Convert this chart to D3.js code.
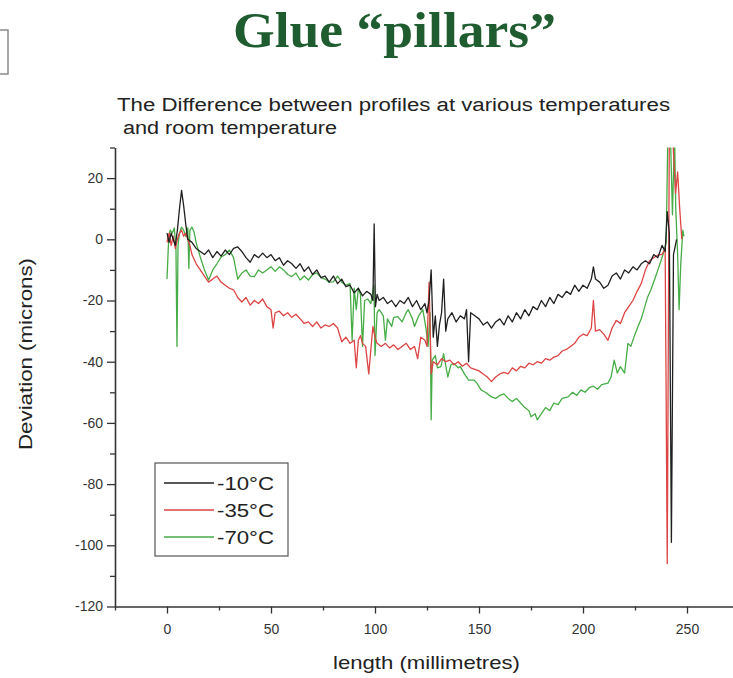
<!DOCTYPE html>
<html>
<head>
<meta charset="utf-8">
<script src="https://cdn.jsdelivr.net/npm/d3@7"></script>
<style>
  html, body { margin: 0; padding: 0; background: #fff; }
  svg { display: block; }
</style>
</head>
<body>
<svg id="chart" width="733" height="678"></svg>
<script>
// Profile deviation (microns) along the length (mm) relative to room temperature
const seriesNames = ["-10°C", "-35°C", "-70°C"];
const seriesColors = ["#202020", "#de4444", "#46ad46"];

const minus10 = [
  [0,2],[1,-1],[2,2],[3,0],[4,-2],[5,3],[6,10],[7,16],[8,11],[9,5],[10,0],[12,-1],[14,-3],[16,-4],
  [18,-5],[20,-3.5],[22,-6],[24,-4],[26,-5.5],[28,-3.5],[30,-5],[32,-3],[34,-2.5],[36,-4],[38,-6],
  [40,-7.5],[42,-5],[44,-6],[46,-4.5],[48,-6],[50,-5],[52,-7],[54,-6],[56,-8.5],[58,-7],[60,-8],
  [62,-9.5],[64,-8],[66,-10.5],[68,-9],[70,-11.5],[72,-10],[74,-12.5],[76,-12],[78,-14],[80,-12],
  [82,-14.5],[84,-13],[86,-15.5],[88,-15],[90,-17.5],[92,-16],[94,-18.5],[96,-17],[98,-18],[99,-20],
  [99.6,5],[100.2,-22],[101,-18],[102,-20],[104,-19],[106,-21],[108,-20],[110,-22],[112,-20],
  [114,-21],[116,-19],[118,-22],[120,-20],[122,-23],[124,-21],[125,-24],[126,-20],[127,-10],
  [128,-32],[129,-25],[130,-35],[131,-28],[132,-24],[133,-13],[134,-30],[135,-26],[137,-24],
  [139,-27],[141,-25],[143,-26],[144,-23],[145,-40],[146,-24],[148,-25],[150,-26],[152,-28],
  [154,-27],[156,-29],[158,-27],[160,-26],[162,-28],[164,-25],[166,-27],[168,-24],[170,-26],
  [172,-23],[174,-25],[176,-22],[178,-23],[180,-20],[182,-22],[184,-19],[186,-21],[188,-18],
  [190,-19],[192,-17],[194,-18],[196,-15],[198,-17],[200,-15],[202,-16],[204,-13],[205,-9],
  [206,-13],[208,-14],[210,-16],[212,-15],[214,-12],[216,-11],[218,-13],[220,-10],[222,-11],
  [224,-9],[226,-10],[228,-8],[230,-7],[232,-8],[234,-5],[236,-6],[238,-2],[239.5,-4],[240.5,9],
  [241.5,2],[242.5,-99],[243.5,-5],[245,0]
];

const minus35 = [
  [0,-1],[1,2],[2,-2],[3,1],[4,-3],[5,0],[6,2],[7,3],[8,1],[9,2],[10,0],[11,-2],[12,-5],[14,-8],
  [16,-10],[18,-12],[20,-14],[22,-13],[24,-12],[26,-14],[28,-15],[30,-16],[32,-16.5],[34,-19],
  [36,-20.5],[38,-19],[40,-21.5],[42,-20],[44,-21],[46,-19.5],[48,-22],[50,-23],[51,-29],[52,-24],
  [54,-23.5],[56,-25],[58,-24],[60,-25.5],[62,-24.5],[64,-26],[66,-27.5],[68,-27],[70,-28.5],
  [72,-27],[74,-29],[76,-28],[78,-28.5],[80,-27.5],[82,-29],[84,-33.5],[86,-32],[88,-34],[90,-33],
  [91,-42],[92,-33],[93,-31.5],[94,-34],[95.5,-35],[97,-44],[98,-36],[99,-28.5],[100,-32],
  [101,-34],[103,-35],[105,-34],[107,-35.5],[109,-34.5],[111,-36],[113,-35],[115,-34],[117,-36],
  [119,-35],[120.5,-39],[122,-32],[124,-33],[125,-35],[126,-14],[127,-44],[128,-40],[130,-41],
  [132,-39],[134,-40],[136,-39.5],[138,-41],[140,-40],[142,-41.5],[144,-40.5],[146,-42],
  [148,-42.5],[150,-43],[152,-44],[154,-45],[156,-46.5],[158,-45],[160,-44],[162,-43.5],
  [164,-44],[166,-42],[168,-43],[170,-41.5],[172,-42],[174,-40.5],[176,-41],[178,-40],
  [180,-40.5],[182,-39],[184,-39.5],[186,-38.5],[188,-38],[190,-36.5],[192,-36],[194,-35],
  [196,-34],[198,-32],[200,-31],[202,-31.5],[204,-29],[205,-20],[206,-30],[208,-29.5],[210,-31],
  [212,-33],[214,-29],[216,-26.5],[218,-27.5],[220,-24],[222,-22],[224,-20],[226,-17],
  [228,-14.5],[230,-10],[232,-7],[234,-6],[236,-5.2],[238,-4.9],[239.5,-3],[240.5,-106],
  [241.5,35],[243,35],[244.5,15],[245.5,22],[246.5,10],[247.5,0]
];

const minus70 = [
  [0,-13],[0.8,0],[1.5,3],[2.5,2],[3.5,3.7],[4.3,-3],[4.8,-35],[5.3,-2],[6,2],[7,4],[8,3],[9,1],
  [10,3.7],[10.5,-9.5],[11,3],[12,4],[13,2.4],[14,-1],[16,-5.8],[18,-10],[20,-13.3],[22,-10],
  [24,-8],[26,-5.8],[28,-5],[30,-3.5],[32,-6],[34,-13],[36,-11],[38,-10],[40,-12],[42,-12.2],
  [44,-10],[46,-11],[48,-10],[50,-9],[52,-10.5],[54,-9],[56,-10],[58,-11.5],[60,-12.2],[62,-11],
  [64,-13.3],[66,-12],[68,-13.3],[70,-11.5],[72,-11],[74,-12.5],[76,-13],[78,-14],[80,-13.9],
  [82,-12],[84,-14],[86,-15],[88,-14.5],[89,-33],[90,-16],[91,-23],[92,-16],[93,-18],[94,-35],
  [95,-20],[96.5,-19.5],[98,-21],[99.5,-15],[100,-38],[101,-24],[102,-23],[103,-24],[104,-25],
  [105,-33],[106,-26],[108,-28.5],[109,-25.5],[111,-25.3],[113,-27],[115,-24],[116,-23],
  [118,-26],[119,-28.5],[121,-25],[123,-23],[124.5,-29],[125.5,-35],[126.5,-24],[127,-59],
  [127.5,-39.5],[129,-38],[130,-42],[131.7,-41.6],[133,-37.4],[135,-45],[136.5,-41],[138,-40.6],
  [140,-42],[141,-41.6],[143,-44],[145,-46],[147.6,-46],[149,-47],[151,-49.2],[153,-50],
  [156,-51.5],[158,-52],[160,-51],[162,-50.5],[164,-52],[166,-53],[168,-52],[170,-53.5],
  [172,-55],[174,-56],[175,-58],[177,-57],[178,-59],[180,-57],[182,-55],[184,-56],[186,-53.5],
  [188,-54],[190,-52],[192.8,-51.5],[195,-50],[197,-51],[199,-49.2],[201,-50],[203,-48.5],
  [205,-48],[207,-49],[209,-47.5],[212,-47],[213.5,-45],[215,-39.5],[216.5,-43.7],[218,-41.6],
  [220,-43.7],[221.6,-34],[223,-35],[225,-31],[226.4,-28.6],[228,-26],[229.3,-23],[231,-19],
  [232.7,-16.4],[234.5,-13],[236,-10],[237.5,-7],[238.5,-4.9],[240,-1],[240.8,35],[242,35],
  [243,8],[244,35],[244.6,10],[245.5,-5],[246.2,-23],[247,-8],[248,3],[248.5,1]
];

const allSeries = [minus10, minus35, minus70];

const yTicks = [20, 0, -20, -40, -60, -80, -100, -120];
const yMinorTicks = [30, 10, -10, -30, -50, -70, -90, -110];
const xTicks = [0, 50, 100, 150, 200, 250];
const xMinorTicks = [-25, 25, 75, 125, 175, 225];

const titleText = "Glue \u201cpillars\u201d";
const subtitleLines = ["The Difference between profiles at various temperatures", " and room temperature"];
const xLabel = "length (millimetres)";
const yLabel = "Deviation (microns)";

const svg = d3.select("#chart");

const x = d3.scaleLinear().domain([-25, 275]).range([115, 739]);
const y = d3.scaleLinear().domain([-120, 30]).range([606.5, 147.5]);

// Slide title
svg.append("text")
  .attr("x", 233).attr("y", 47)
  .attr("font-family", "'Liberation Serif', 'Times New Roman', serif")
  .attr("font-weight", "bold")
  .attr("font-size", 50)
  .attr("fill", "#1f5c30")
  .attr("textLength", 323)
  .attr("lengthAdjust", "spacingAndGlyphs")
  .text(titleText);

// Partial frame at the left slide edge
svg.append("rect")
  .attr("x", -20).attr("y", 30).attr("width", 28).attr("height", 44)
  .attr("fill", "none").attr("stroke", "#8a8a8a").attr("stroke-width", 1.5);

// Chart subtitle
const subWidths = [553, 220];
const subX = [117, 117];
subtitleLines.forEach((t, i) => {
  svg.append("text")
    .attr("x", subX[i]).attr("y", 111 + i * 23)
    .attr("font-family", "'Liberation Sans', Arial, sans-serif")
    .attr("font-size", 18)
    .attr("fill", "#222")
    .attr("textLength", subWidths[i])
    .attr("lengthAdjust", "spacingAndGlyphs")
    .attr("xml:space", "preserve")
    .style("white-space", "pre")
    .text(t);
});

// Data lines
svg.append("clipPath").attr("id", "plotClip")
  .append("rect")
  .attr("x", 115).attr("y", y(30))
  .attr("width", 733 - 115).attr("height", y(-120) - y(30));

const line = d3.line().x(d => x(d[0])).y(d => y(d[1]));

const plot = svg.append("g").attr("clip-path", "url(#plotClip)");
[2, 1, 0].forEach(i => {
  plot.append("path")
    .datum(allSeries[i])
    .attr("d", line)
    .attr("fill", "none")
    .attr("stroke", seriesColors[i])
    .attr("stroke-width", 1.3)
    .attr("stroke-linejoin", "round");
});

// Axes (plain hyphen for negative labels)
const fmt = d => String(d);
const axisColor = "#333";
svg.append("g").attr("transform", "translate(115,0)")
  .call(d3.axisLeft(y).tickValues(yTicks).tickFormat(fmt).tickSize(8).tickPadding(4).tickSizeOuter(0));
svg.append("g").attr("transform", "translate(115,0)")
  .call(d3.axisLeft(y).tickValues(yMinorTicks).tickSize(5).tickFormat("").tickSizeOuter(0))
  .select(".domain").remove();

svg.append("g").attr("transform", `translate(0,${y(-120)})`)
  .call(d3.axisBottom(x).tickValues(xTicks).tickFormat(fmt).tickSize(7).tickPadding(11).tickSizeOuter(0));
svg.append("g").attr("transform", `translate(0,${y(-120)})`)
  .call(d3.axisBottom(x).tickValues(xMinorTicks).tickSize(4).tickFormat("").tickSizeOuter(0))
  .select(".domain").remove();

svg.selectAll(".domain").attr("stroke", axisColor).attr("stroke-width", 1.6);
svg.selectAll(".tick line").attr("stroke", axisColor).attr("stroke-width", 1.3);
svg.selectAll(".tick text")
  .attr("font-family", "'Liberation Sans', Arial, sans-serif")
  .attr("font-size", 14)
  .attr("fill", "#333");

// Axis titles
svg.append("text")
  .attr("x", 333).attr("y", 669)
  .attr("font-family", "'Liberation Sans', Arial, sans-serif")
  .attr("font-size", 19)
  .attr("fill", "#222")
  .attr("textLength", 187)
  .attr("lengthAdjust", "spacingAndGlyphs")
  .text(xLabel);

svg.append("text")
  .attr("transform", "translate(32,450) rotate(-90)")
  .attr("font-family", "'Liberation Sans', Arial, sans-serif")
  .attr("font-size", 19)
  .attr("fill", "#222")
  .attr("textLength", 192)
  .attr("lengthAdjust", "spacingAndGlyphs")
  .text(yLabel);

// Legend
const legend = svg.append("g");
legend.append("rect")
  .attr("x", 155).attr("y", 463).attr("width", 133).attr("height", 93)
  .attr("fill", "#fff").attr("stroke", "#555").attr("stroke-width", 1.2);
seriesNames.forEach((name, i) => {
  const cy = 483 + i * 27;
  legend.append("line")
    .attr("x1", 164).attr("x2", 214).attr("y1", cy).attr("y2", cy)
    .attr("stroke", seriesColors[i]).attr("stroke-width", 1.3);
  legend.append("text")
    .attr("x", 217).attr("y", cy + 7)
    .attr("font-family", "'Liberation Sans', Arial, sans-serif")
    .attr("font-size", 19)
    .attr("fill", "#222")
    .attr("textLength", 57)
    .attr("lengthAdjust", "spacingAndGlyphs")
    .text(name);
});
</script>
</body>
</html>
